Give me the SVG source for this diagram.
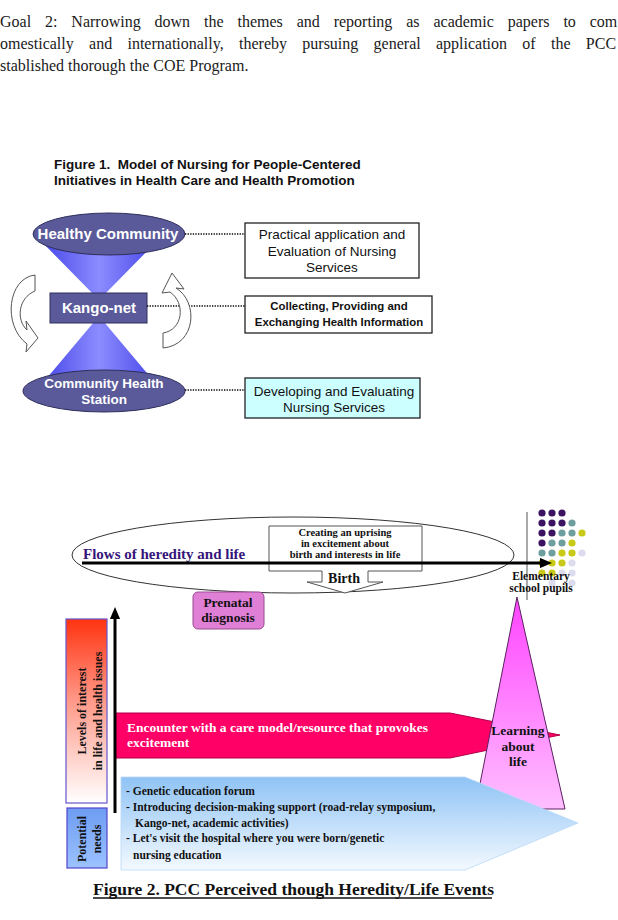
<svg xmlns="http://www.w3.org/2000/svg" width="618" height="920" viewBox="0 0 618 920">
<defs>
<linearGradient id="hg" x1="0" y1="0" x2="1" y2="0">
<stop offset="0" stop-color="#3f3fe6"/><stop offset="0.5" stop-color="#8c8cff"/><stop offset="1" stop-color="#3f3fe6"/>
</linearGradient>
<linearGradient id="redg" x1="0" y1="0" x2="0" y2="1">
<stop offset="0" stop-color="#ff3311"/><stop offset="0.45" stop-color="#ff9a8a"/><stop offset="1" stop-color="#ffffff"/>
</linearGradient>
<linearGradient id="needg" x1="0" y1="0" x2="0" y2="1">
<stop offset="0" stop-color="#6d9cf2"/><stop offset="1" stop-color="#9cc2ff"/>
</linearGradient>
<linearGradient id="magg" x1="0" y1="0" x2="0" y2="1">
<stop offset="0" stop-color="#ff44ff"/><stop offset="1" stop-color="#ffbfff"/>
</linearGradient>
<linearGradient id="blueg" x1="0" y1="0" x2="0" y2="1">
<stop offset="0" stop-color="#8fc3f5"/><stop offset="1" stop-color="#f3f9ff"/>
</linearGradient>
<marker id="arr" markerWidth="4" markerHeight="3.4" refX="1" refY="1.7" orient="auto" markerUnits="strokeWidth">
<path d="M0,0 L4,1.7 L0,3.4 Z" fill="#000"/>
</marker>
</defs>
<style>
.body{font-family:"Liberation Serif","Times New Roman",serif;font-size:16px;fill:#1a1a1a}
.sans{font-family:"Liberation Sans",Arial,sans-serif}
.ttl{font-family:"Liberation Sans",Arial,sans-serif;font-weight:bold;font-size:13.5px;fill:#111;white-space:pre}
.wt{fill:#fff;font-weight:bold;text-anchor:middle}
.box{fill:#fff;stroke:#222;stroke-width:1.3}
.bt{font-family:"Liberation Sans",Arial,sans-serif;font-size:13.5px;fill:#111;text-anchor:middle}
.bb{font-weight:bold;font-size:11.4px}
.ell{fill:#5a5a9a;stroke:#2e2e5c;stroke-width:1}
.dotl{stroke:#000;stroke-width:1.3;stroke-dasharray:1.3 1.3;fill:none}
.curv{fill:#fff;stroke:#555;stroke-width:1}
.sb{font-family:"Liberation Serif","Times New Roman",serif;font-weight:bold;fill:#111}
.thick{stroke:#000;stroke-width:3;fill:none;marker-end:url(#arr)}
.P{fill:#3c1361}.T{fill:#6f9e9e}.Y{fill:#c9c918}.L{fill:#dcdcee}
</style>
<rect width="618" height="920" fill="#fff"/>

<g id="intro-text" class="body">
<text x="0" y="27" word-spacing="9.9">Goal 2: Narrowing down the themes and reporting as academic papers to com</text>
<text x="0" y="49" word-spacing="11.3">omestically and internationally, thereby pursuing general application of the PCC</text>
<text x="0" y="71">stablished thorough the COE Program.</text>
</g>

<g id="fig1-title">
<text class="ttl" x="54" y="169">Figure 1.  Model of Nursing for People-Centered</text>
<text class="ttl" x="54" y="185">Initiatives in Health Care and Health Promotion</text>
</g>

<g id="hourglass">
<polygon points="36,236 162,236 99,300" fill="url(#hg)"/>
<polygon points="36,391 162,391 99,316" fill="url(#hg)"/>
</g>

<g id="healthy-community">
<ellipse class="ell" cx="109" cy="234" rx="76" ry="21"/>
<text class="sans wt" x="108" y="239" font-size="15">Healthy Community</text>
</g>

<g id="kango-net">
<rect x="50" y="293" width="97" height="30" fill="#5a5a9a" stroke="#2e2e5c" stroke-width="1"/>
<text class="sans wt" x="99" y="313" font-size="15">Kango-net</text>
</g>

<g id="community-health-station">
<ellipse class="ell" cx="104" cy="391" rx="81" ry="21"/>
<text class="sans wt" x="104" y="388" font-size="13.5">Community Health</text>
<text class="sans wt" x="104" y="404" font-size="13.5">Station</text>
</g>

<g id="practical-application">
<rect class="box" x="245" y="223" width="174" height="55"/>
<text class="bt" x="332" y="239">Practical application and</text>
<text class="bt" x="332" y="256">Evaluation of Nursing</text>
<text class="bt" x="332" y="272">Services</text>
</g>

<g id="collecting-info">
<rect class="box" x="245" y="296" width="187" height="37"/>
<text class="bt bb" x="339" y="310">Collecting, Providing and</text>
<text class="bt bb" x="339" y="326">Exchanging Health Information</text>
</g>

<g id="developing-services">
<rect class="box" x="245" y="378" width="175" height="40" style="fill:#ccffff"/>
<text class="bt" x="334" y="396">Developing and Evaluating</text>
<text class="bt" x="334" y="412">Nursing Services</text>
</g>

<g id="flows-ellipse">
<ellipse cx="293" cy="555" rx="221" ry="38" fill="none" stroke="#333" stroke-width="1"/>
<text x="83" y="559" font-family="Liberation Serif, Times New Roman, serif" font-weight="bold" font-size="15" fill="#36157a">Flows of heredity and life</text>
</g>

<g id="birth-callout">
<path d="M269,526 H422 V571 H368 V582 H383 L345,593 L307,582 H322 V571 H269 Z" fill="#fff" stroke="#555" stroke-width="1"/>
<text class="sb" x="345" y="536" font-size="10.5" text-anchor="middle">Creating an uprising</text>
<text class="sb" x="345" y="547" font-size="10.5" text-anchor="middle">in excitement about</text>
<text class="sb" x="345" y="558" font-size="10.5" text-anchor="middle">birth and interests in life</text>
<text class="sb" x="344" y="583" font-size="14" text-anchor="middle">Birth</text>
</g>

<g id="elementary-pupils">
<line x1="527" y1="512" x2="527" y2="600" stroke="#555" stroke-width="1"/>
<circle class="P" cx="542" cy="513" r="3.6"/><circle class="P" cx="552" cy="513" r="3.6"/><circle class="P" cx="562" cy="513" r="3.6"/>
<circle class="P" cx="542" cy="523" r="3.6"/><circle class="P" cx="552" cy="523" r="3.6"/><circle class="P" cx="562" cy="523" r="3.6"/><circle class="T" cx="572" cy="523" r="3.6"/>
<circle class="P" cx="542" cy="533" r="3.6"/><circle class="P" cx="552" cy="533" r="3.6"/><circle class="T" cx="562" cy="533" r="3.6"/><circle class="T" cx="572" cy="533" r="3.6"/><circle class="Y" cx="582" cy="533" r="3.6"/>
<circle class="P" cx="542" cy="543" r="3.6"/><circle class="T" cx="552" cy="543" r="3.6"/><circle class="T" cx="562" cy="543" r="3.6"/><circle class="Y" cx="572" cy="543" r="3.6"/>
<circle class="T" cx="542" cy="553" r="3.6"/><circle class="T" cx="552" cy="553" r="3.6"/><circle class="Y" cx="562" cy="553" r="3.6"/><circle class="Y" cx="572" cy="553" r="3.6"/><circle class="L" cx="582" cy="553" r="3.6"/>
<circle class="Y" cx="542" cy="563" r="3.6"/><circle class="Y" cx="552" cy="563" r="3.6"/><circle class="Y" cx="562" cy="563" r="3.6"/><circle class="L" cx="572" cy="563" r="3.6"/>
<circle class="Y" cx="542" cy="573" r="3.6"/><circle class="Y" cx="552" cy="573" r="3.6"/><circle class="L" cx="562" cy="573" r="3.6"/><circle class="L" cx="572" cy="573" r="3.6"/>
<circle class="L" cx="552" cy="583" r="3.6"/><circle class="L" cx="572" cy="583" r="3.6"/>
<text class="sb" x="541" y="580" font-size="11.5" text-anchor="middle">Elementary</text>
<text class="sb" x="541" y="592" font-size="11.5" text-anchor="middle">school pupils</text>
</g>

<g id="prenatal-diagnosis">
<rect x="193" y="592" width="71" height="37" rx="5" fill="#e07fd6" stroke="#9a4a90" stroke-width="1"/>
<text class="sb" x="228" y="607" font-size="13.5" text-anchor="middle">Prenatal</text>
<text class="sb" x="228" y="622" font-size="13.5" text-anchor="middle">diagnosis</text>
</g>

<g id="encounter">
<polygon points="115,713 450,713 560,735 450,758 115,758" fill="#ff0066" stroke="#b0004a" stroke-width="1"/>
<text class="sb" x="127" y="732" font-size="13.5" style="fill:#fff">Encounter with a care model/resource that provokes</text>
<text class="sb" x="127" y="747" font-size="13.5" style="fill:#fff">excitement</text>
</g>

<g id="learning-about-life">
<polygon points="517,597 565,809 475,809" fill="url(#magg)" stroke="#5a2060" stroke-width="1"/>
<text class="sb" x="518" y="735" font-size="13.5" text-anchor="middle">Learning</text>
<text class="sb" x="518" y="751" font-size="13.5" text-anchor="middle">about</text>
<text class="sb" x="518" y="766" font-size="13.5" text-anchor="middle">life</text>
</g>

<g id="potential-activities">
<polygon points="121,777 465,777 578,823 465,870 121,870" fill="url(#blueg)" stroke="#b8d8f8" stroke-width="0.8"/>
<text class="sb" x="126" y="795" font-size="11.5">- Genetic education forum</text>
<text class="sb" x="126" y="811" font-size="11.5">- Introducing decision-making support (road-relay symposium,</text>
<text class="sb" x="135" y="827" font-size="11.5">Kango-net, academic activities)</text>
<text class="sb" x="126" y="842" font-size="11.5">- Let's visit the hospital where you were born/genetic</text>
<text class="sb" x="133" y="859" font-size="11.5">nursing education</text>
</g>

<g id="levels-of-interest">
<rect x="66" y="619" width="41" height="184" fill="url(#redg)" stroke="#6655cc" stroke-width="1.2"/>
<text class="sb" transform="translate(86,711) rotate(-90)" font-size="12" text-anchor="middle">Levels of interest</text>
<text class="sb" transform="translate(102,711) rotate(-90)" font-size="12" text-anchor="middle">in life and health issues</text>
</g>

<g id="potential-needs">
<rect x="67" y="808" width="40" height="60" fill="url(#needg)" stroke="#5544cc" stroke-width="1.2"/>
<text class="sb" transform="translate(86,839) rotate(-90)" font-size="12" text-anchor="middle">Potential</text>
<text class="sb" transform="translate(101,839) rotate(-90)" font-size="12" text-anchor="middle">needs</text>
</g>

<g id="fig2-caption">
<text class="sb" x="93" y="895" font-size="17.5">Figure 2. PCC Perceived though Heredity/Life Events</text>
<line x1="93" y1="898" x2="492" y2="898" stroke="#111" stroke-width="1.3"/>
</g>

<g id="connectors">
<line class="dotl" x1="185" y1="234" x2="245" y2="234"/>
<line class="dotl" x1="147" y1="306" x2="245" y2="306"/>
<line class="dotl" x1="185" y1="390" x2="245" y2="390"/>
<path class="curv" d="M35,275 C8,278 2,325 27,344 L26,352 L38,338 L26,321 L27,330 C16,320 18,298 35,291 Z"/>
<path class="curv" d="M163,348 C196,345 199,302 176,288 L184,289 L172,273 L162,293 L170,292 C186,303 183,330 163,333 Z"/>
<path class="thick" d="M82,563 H543"/>
<path class="thick" d="M115,813 V616"/>
</g>
</svg>
